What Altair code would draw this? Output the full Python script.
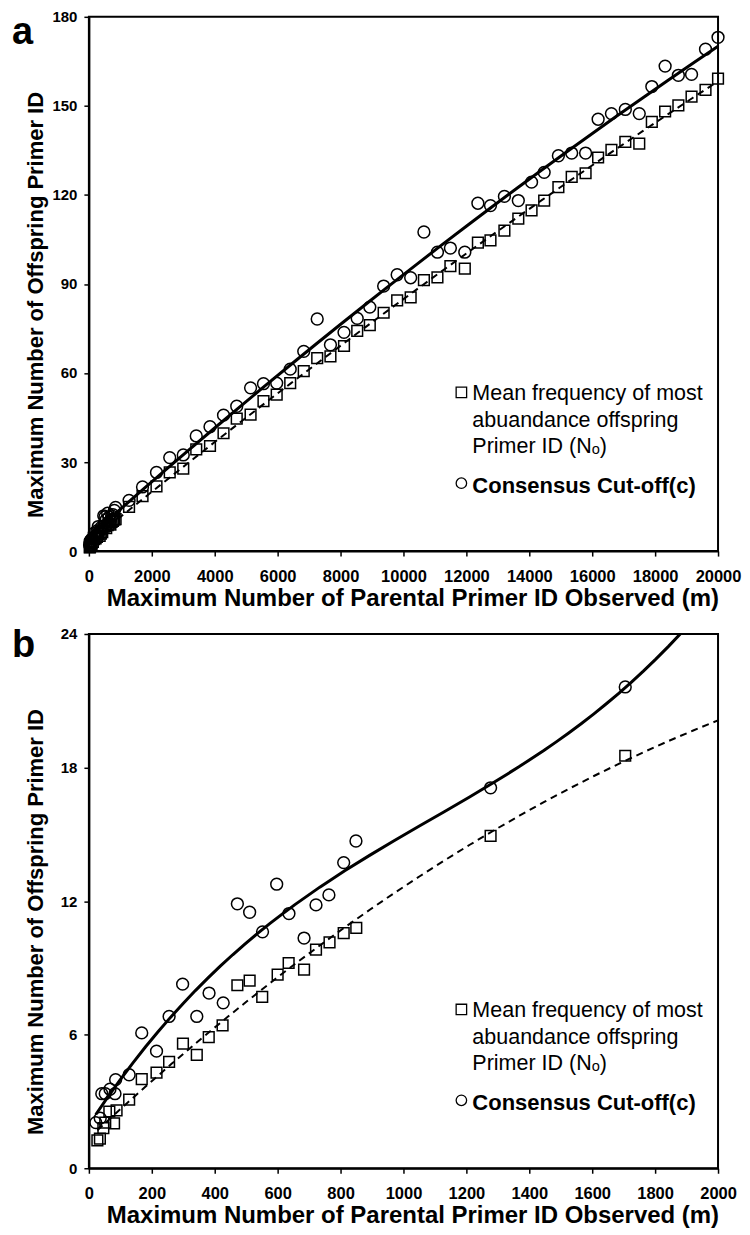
import altair as alt
import pandas as pd

FONT = "Liberation Sans"

# ---------------- data ----------------
# Squares: mean frequency of most abundant offspring Primer ID (N_o)
sq_m_low = [27, 35, 46, 52, 65, 80, 88, 128, 168, 215, 255, 299, 343, 381, 425,
            472, 511, 551, 600, 635, 684, 722, 765, 810, 850, 1277, 1705]
sq_v_low = [1.25, 1.33, 1.8, 2.05, 2.55, 2.02, 2.6, 3.08, 4.0, 4.3, 4.78, 5.6, 5.09, 5.89, 6.42,
            8.22, 8.43, 7.7, 8.7, 9.22, 8.92, 9.82, 10.15, 10.56, 10.8, 14.93, 18.53]
# Circles: consensus cut-off (c)
ci_m_low = [22, 36, 41, 52, 67, 83, 85, 128, 168, 215, 255, 298, 343, 382, 427,
            472, 511, 552, 597, 636, 684, 722, 763, 810, 849, 1277, 1705]
ci_v_low = [2.05, 2.25, 3.35, 3.35, 3.55, 3.35, 3.98, 4.2, 6.08, 5.26, 6.82, 8.27, 6.82, 7.87, 7.43,
            11.88, 11.5, 10.62, 12.76, 11.44, 10.34, 11.83, 12.28, 13.73, 14.7, 17.09, 21.62]

# Points above m = 2000 (panel a only)
m_high = [2149, 2570, 3000, 3413, 3850, 4280, 4700, 5140, 5550, 5970,
          6400, 6830, 7258, 7679, 8110, 8530, 8930, 9370, 9800, 10229,
          10650, 11080, 11492, 11950, 12366, 12766, 13209, 13651, 14072, 14473,
          14925, 15348, 15790, 16188, 16611, 17053, 17496, 17895, 18318, 18739,
          19158, 19602, 20000]
sq_v_high = [21.8, 26.5, 27.8, 34.3, 35.4, 39.7, 44.6, 46.0, 50.5, 52.7,
             56.6, 60.6, 65.0, 65.6, 69.1, 74.2, 76.1, 80.3, 84.5, 85.5,
             91.3, 92.2, 96.0, 95.2, 103.9, 104.7, 108.0, 112.0, 114.8, 118.1,
             122.6, 126.1, 127.3, 132.6, 135.2, 137.9, 137.3, 144.6, 148.1, 150.2,
             153.1, 155.4, 159.2]
ci_v_high = [26.5, 31.5, 32.4, 38.8, 41.9, 45.8, 48.8, 55.0, 56.4, 56.6,
             61.3, 67.3, 78.2, 69.5, 73.7, 78.4, 82.2, 89.3, 93.1, 92.1,
             107.5, 100.7, 102.1, 100.7, 117.2, 116.4, 119.5, 118.1, 124.3, 127.6,
             133.2, 134.1, 134.1, 145.5, 147.4, 148.8, 147.4, 156.5, 163.4, 160.3,
             160.6, 169.1, 173.1]

legend_labels = ["Mean frequency of most\nabuandance offspring\nPrimer ID (N\u2092)",
                 "Consensus Cut-off(c)"]
x_title = "Maximum Number of Parental Primer ID Observed (m)"
y_title = "Maximum Number of Offspring Primer ID"

W, H = 630, 535


def one(txt):
    return pd.DataFrame({"t": [txt]})


def panel(letter, sq_df, ci_df, xmax, xstep, ymax, ystep, order_sq, order_ci, sq_ext, ci_ext):
    X = alt.X("m:Q", scale=alt.Scale(domain=[0, xmax], nice=False, zero=True),
              axis=alt.Axis(values=list(range(0, xmax + 1, xstep)), format="d", title=x_title,
                            labelOverlap=False, labelFlush=False))
    Y = alt.Y("v:Q", scale=alt.Scale(domain=[0, ymax], nice=False),
              axis=alt.Axis(values=list(range(0, ymax + 1, ystep)), format="d", title=y_title,
                            labelOverlap=False, labelFlush=False))

    sq_fit = alt.Chart(sq_df).transform_regression(
        "m", "v", method="poly", order=order_sq, extent=sq_ext
    ).mark_line(color="black", strokeWidth=2, strokeDash=[7, 5], clip=True).encode(x=X, y=Y)
    ci_fit = alt.Chart(ci_df).transform_regression(
        "m", "v", method="poly", order=order_ci, extent=ci_ext
    ).mark_line(color="black", strokeWidth=3, clip=True).encode(x=X, y=Y)

    sq_pts = alt.Chart(sq_df).mark_point(shape="square", filled=False, color="black",
                                         strokeWidth=1.5, size=115, opacity=1).encode(x=X, y=Y)
    ci_pts = alt.Chart(ci_df).mark_point(shape="circle", filled=False, color="black",
                                         strokeWidth=1.5, size=140, opacity=1).encode(x=X, y=Y)

    let = alt.Chart(one(letter)).mark_text(align="left", baseline="alphabetic", fontSize=38,
                                           fontWeight="bold", font=FONT, color="black").encode(
        x=alt.value(-77), y=alt.value(27 if letter == "a" else 23), text="t:N")

    leg_sq = alt.Chart(one("s")).mark_point(shape="square", filled=False, color="black",
                                            strokeWidth=1.3, size=110, opacity=1).encode(
        x=alt.value(373), y=alt.value(376))
    leg_ci = alt.Chart(one("c")).mark_point(shape="circle", filled=False, color="black",
                                            strokeWidth=1.3, size=110, opacity=1).encode(
        x=alt.value(373), y=alt.value(467))
    leg_t1 = alt.Chart(one(legend_labels[0])).mark_text(
        align="left", baseline="alphabetic", fontSize=21.5, font=FONT, color="black",
        lineBreak="\n", lineHeight=26.3).encode(x=alt.value(384), y=alt.value(384), text="t:N")
    leg_t2 = alt.Chart(one(legend_labels[1])).mark_text(
        align="left", baseline="alphabetic", fontSize=22, fontWeight="bold", font=FONT,
        color="black").encode(x=alt.value(384), y=alt.value(477), text="t:N")

    return alt.layer(sq_fit, ci_fit, sq_pts, ci_pts, let, leg_sq, leg_ci, leg_t1, leg_t2).properties(
        width=W, height=H)


sq_a = pd.DataFrame({"m": sq_m_low + m_high, "v": sq_v_low + sq_v_high})
ci_a = pd.DataFrame({"m": ci_m_low + m_high, "v": ci_v_low + ci_v_high})
sq_b = pd.DataFrame({"m": sq_m_low, "v": sq_v_low})
ci_b = pd.DataFrame({"m": ci_m_low, "v": ci_v_low})

pa = panel("a", sq_a, ci_a, 20000, 2000, 180, 30, 2, 2, [27, 20000], [22, 20000])
pb = panel("b", sq_b, ci_b, 2000, 200, 24, 6, 2, 3, [27, 2000], [22, 2000])

chart = alt.vconcat(pa, pb, spacing=14).properties(
    padding={"left": 3, "top": 0, "right": 0, "bottom": 0}
).configure_view(
    stroke="black", strokeWidth=2
).configure_axis(
    grid=False, domainColor="black", domainWidth=2, tickColor="black", tickWidth=1.5,
    tickSize=5, labelColor="black", titleColor="black", labelFont=FONT, titleFont=FONT,
    labelFontWeight="bold", titleFontWeight="bold"
).configure_axisX(
    labelFontSize=16.5, labelPadding=12, titlePadding=2, titleFontSize=24, titleX=324
).configure_axisY(
    labelFontSize=15, labelPadding=7, titleX=-41, titleY=288, titleFontSize=22
)

chart.save("out.html", embed_options={"renderer": "svg", "actions": False})
